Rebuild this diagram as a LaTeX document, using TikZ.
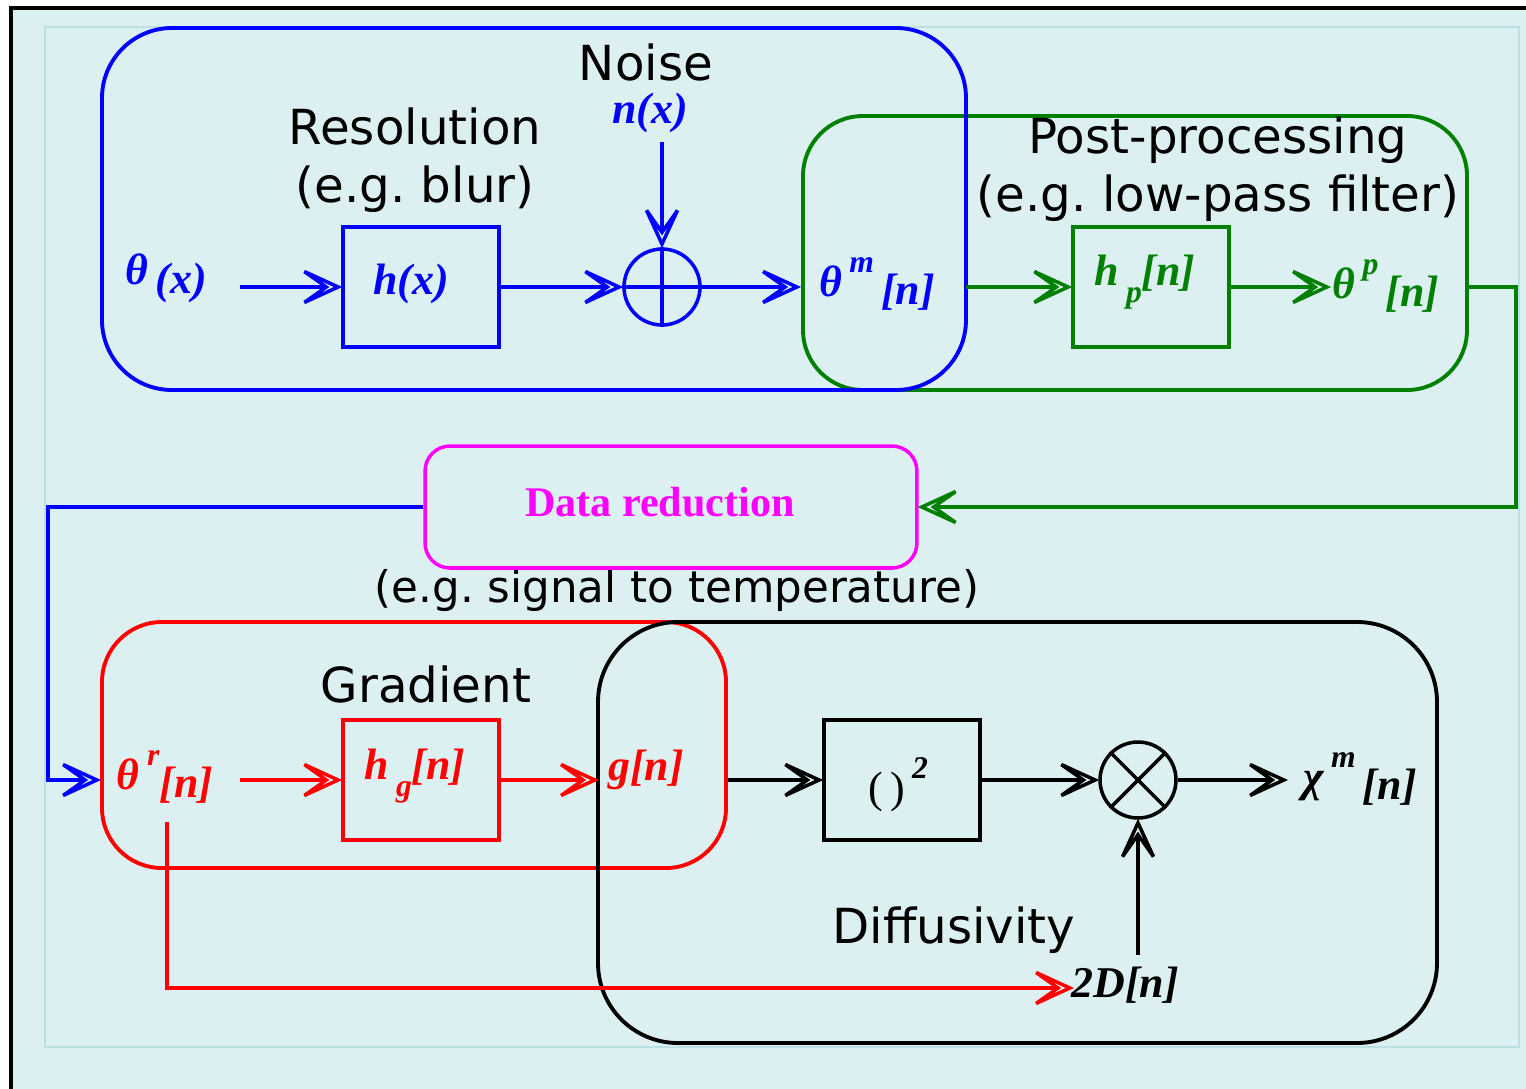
\documentclass[tikz,border=0pt]{standalone}
\usepackage{fontspec}
\setmainfont{DejaVu Sans}
\newfontfamily\tms{Liberation Serif}
\usepackage{xcolor}
\usepackage{tikz}
\usetikzlibrary{arrows.meta, positioning, calc}
\definecolor{bgcyan}{RGB}{220,239,241}
\definecolor{framecyan}{RGB}{186,224,227}
\definecolor{dgreen}{RGB}{0,128,0}
\definecolor{pmagenta}{RGB}{255,0,255}
\newcommand{\sps}[1]{\raisebox{0.55em}{\fontsize{18}{18}\selectfont #1}}
\newcommand{\sbs}[1]{\raisebox{-0.4em}{\fontsize{18}{18}\selectfont #1}}
\newcommand{\low}[1]{\raisebox{-0.2em}{#1}}
\frenchspacing
% open notched arrow head
\pgfdeclarearrow{
  name = OpenHead,
  setup code = {
    \pgfarrowssettipend{0pt}
    \pgfarrowssetlineend{-8.5pt}
    \pgfarrowssetbackend{-21pt}
    \pgfarrowssetvisualbackend{-21pt}
    \pgfarrowshullpoint{0pt}{0pt}
    \pgfarrowshullpoint{-21pt}{9pt}
    \pgfarrowshullpoint{-21pt}{-9pt}
  },
  drawing code = {
    \pgfsetdash{}{0pt}
    \pgfsetmiterjoin
    \pgfpathmoveto{\pgfpoint{-21pt}{8.8pt}}
    \pgfpathlineto{\pgfpoint{-1.8pt}{0pt}}
    \pgfpathlineto{\pgfpoint{-21pt}{-8.8pt}}
    \pgfpathlineto{\pgfpoint{-8.5pt}{0pt}}
    \pgfpathclose
    \pgfusepathqstroke
  }
}
\tikzset{
    arr/.style={-{OpenHead}},
}

\begin{document}
\begin{tikzpicture}[
    x=0.02cm, y=-0.02cm,
    sans/.style={font=\fontsize{27.5}{33}\selectfont, text=black, align=center, inner sep=0pt},
    mlbl/.style={font=\fontsize{25}{28}\selectfont\tms\bfseries\itshape, inner sep=0pt},
    blkbox/.style={draw, line width=2pt, minimum width=3.12cm, minimum height=2.4cm, inner sep=0pt},
    sumnode/.style={draw, circle, line width=2pt, minimum size=1.52cm, inner sep=0pt},
    wire/.style={line width=2pt},
    grp/.style={line width=2.2pt},
]
    \useasboundingbox (0,0) rectangle (1526,1089);
    % frame
    \fill[white] (0,0) rectangle (1526,1089);
    \fill[bgcyan] (10,7) rectangle (1526,1089);
    \draw[line width=1.8pt] (11,1089) -- (11,8) -- (1526,8);
    \draw[framecyan, line width=1.6pt] (45,27) rectangle (1519,1047);

    % group outlines
    \draw[grp, dgreen, rounded corners=1.2cm] (803,116) rectangle (1467,390);
    \draw[grp, blue, rounded corners=1.4cm] (102,28) rectangle (966,390);
    \draw[grp, red, rounded corners=1.2cm] (102,622) rectangle (726,868);
    \draw[grp, black, rounded corners=1.6cm] (598,622) rectangle (1437,1043);

    % group titles
    \node[sans] (noise) at (646,62) {Noise};
    \node[sans] (resol) at (415,160) {Resolution\\(e.g. blur)};
    \node[sans] (post) at (1218,169) {Post-processing\\(e.g. low-pass filter)};
    \node[sans] (grad) at (426,684) {Gradient};
    \node[sans] (diff) at (954,930) {Diffusivity};
    \node[sans, font=\fontsize{24.8}{30}\selectfont] (drnote) at (677,590) {(e.g. signal to temperature)};

    % measurement chain
    \node[mlbl, blue] (thx) at (166,278) {θ\,\low{(x)}};
    \coordinate (thxout) at (240,287);
    \node[blkbox, blue] (hx) at (421,287) {};
    \node[mlbl, blue] at (411,284) {h(x)};
    \node[sumnode, blue] (add) at (662,287) {};
    \draw[wire, blue] (add.north) -- (add.south) (add.west) -- (add.east);
    \node[mlbl, blue] (nx) at (650,113) {n(x)};
    \coordinate (nxout) at (662,142);
    \coordinate (thmin) at (800,287);
    \node[mlbl, blue] (thm) at (877,284) {θ\,\sps{m}\,\low{[n]}};

    \draw[wire, blue, arr] (thxout) -- (hx.west);
    \draw[wire, blue, arr] (hx.east) -- (add.west);
    \draw[wire, blue, arr] (nxout) -- (add.north);
    \draw[wire, blue, arr] (add.east) -- (thmin);

    % post-processing
    \coordinate (thmout) at (966,287);
    \node[blkbox, dgreen] (hp) at (1151,287) {};
    \node[mlbl, dgreen] at (1145,282) {h\,\sbs{p}[n]};
    \coordinate (thpin) at (1330,287);
    \node[mlbl, dgreen] (thp) at (1386,286) {θ\,\sps{p}\,\low{[n]}};
    \coordinate (thpout) at (1467,287);
    \coordinate (rturn) at (1516,507);
    \draw[wire, dgreen, arr] (thmout) -- (hp.west);
    \draw[wire, dgreen, arr] (hp.east) -- (thpin);

    % data reduction
    \node[draw=pmagenta, line width=2pt, rounded corners=0.5cm,
          minimum width=9.84cm, minimum height=2.44cm] (dr) at (671,507) {};
    \node[text=pmagenta, font=\fontsize{24}{28}\selectfont\tms\bfseries] at (660,502) {Data reduction};
    \draw[wire, dgreen, arr] (thpout) -| (rturn) -- (dr.east);
    \coordinate (lturn) at (48,780);
    \coordinate (thrin) at (100,780);
    \draw[wire, blue, arr] (dr.west) -| (lturn) -- (thrin);

    % gradient
    \node[mlbl, red] (thr) at (165,777) {θ\,\sps{r}\low{[n]}};
    \coordinate (throut) at (240,780);
    \node[blkbox, red] (hg) at (421,780) {};
    \node[mlbl, red] at (415,776) {h\,\sbs{g}[n]};
    \coordinate (gin) at (598,780);
    \node[mlbl, red] (gn) at (646,770) {g[n]};
    \draw[wire, red, arr] (throut) -- (hg.west);
    \draw[wire, red, arr] (hg.east) -- (gin);

    % diffusivity
    \coordinate (gout) at (728,780);
    \node[blkbox, black] (sq) at (902,780) {};
    \node[font=\fontsize{25}{28}\selectfont\tms, inner sep=0pt] at (898,785) {(\,)\,\sps{\bfseries\itshape 2}};
    \node[sumnode, black] (mul) at (1138,780) {};
    \draw[wire] (mul.45) -- (mul.225) (mul.135) -- (mul.315);
    \coordinate (chiin) at (1287,780);
    \node[mlbl, black] (chi) at (1360,779) {χ\,\sps{m}\,\low{[n]}};
    \coordinate (dout) at (1138,955);
    \node[mlbl, black] (dn) at (1125,985) {2D[n]};
    \coordinate (thrdown) at (167,822);
    \coordinate (dnin) at (1073,988);
    \draw[wire, arr] (gout) -- (sq.west);
    \draw[wire, arr] (sq.east) -- (mul.west);
    \draw[wire, arr] (mul.east) -- (chiin);
    \draw[wire, arr] (dout) -- (mul.south);
    \draw[wire, red, arr] (thrdown) |- (dnin);
\end{tikzpicture}
\end{document}
